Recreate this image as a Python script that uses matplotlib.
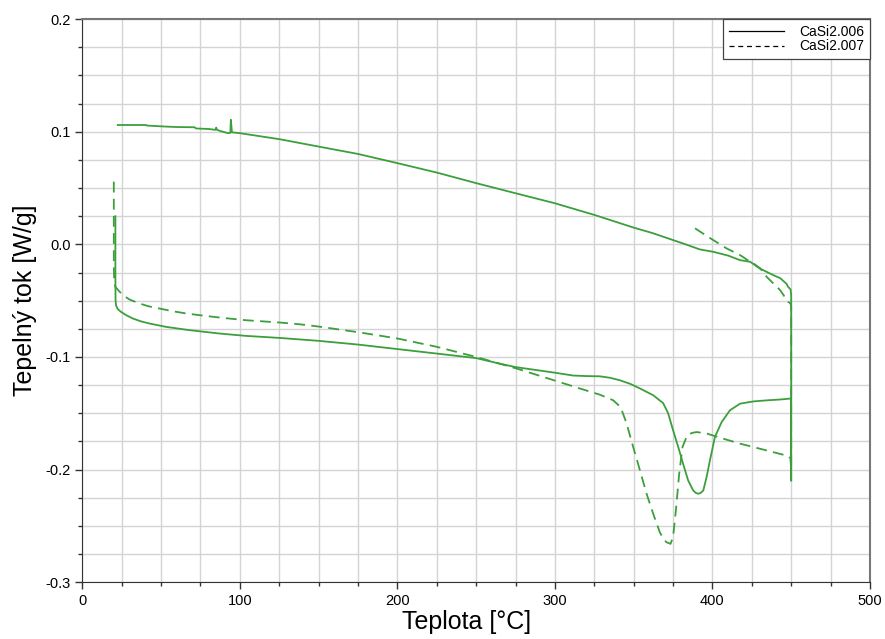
import numpy as np
import matplotlib
matplotlib.use('Agg')
import matplotlib.pyplot as plt
import matplotlib.ticker as ticker
from matplotlib.lines import Line2D

plt.rcParams['font.family'] = ['Liberation Sans', 'DejaVu Sans']
plt.rcParams['axes.unicode_minus'] = False

# CaSi2.006 - heating, hold at 450, cooling (solid)
t006 = [21.0, 21.0, 21.1, 21.5, 22.5, 24.6, 28.0, 32.0, 37.0, 42.6, 53.2, 68.0, 87.1,
        104.0, 125.2, 150.0, 175.0, 200.0, 225.0, 250.0, 265.0, 275.0, 300.0, 311.5,
        320.0, 328.5, 335.0, 341.2, 348.0, 354.0, 362.4, 368.7, 371.9, 375.0, 378.3,
        381.4, 384.6, 387.8, 389.5, 391.0, 392.5, 394.2, 396.3, 398.4, 401.6, 405.8,
        411.1, 417.5, 426.0, 435.0, 443.0, 449.2, 449.8, 450.0, 450.0, 449.6, 448.0,
        447.0, 443.0, 438.6, 430.0, 424.0, 417.5, 410.0, 400.5, 392.0, 384.0, 375.0,
        362.0, 349.7, 325.4, 300.0, 275.0, 250.2, 225.2, 200.4, 175.0, 150.2, 125.2,
        99.8, 95.0, 94.3, 94.0, 92.4, 88.0, 85.5, 85.0, 84.5, 80.0, 72.3, 71.2, 60.0,
        53.0, 41.0, 40.5, 30.0, 22.5]
q006 = [0.025, -0.030, -0.050, -0.0545, -0.0575, -0.0600, -0.0630, -0.0658, -0.0683,
        -0.0703, -0.0733, -0.0762, -0.0792, -0.0813, -0.0831, -0.0857, -0.0890, -0.0930,
        -0.0970, -0.1010, -0.1060, -0.1090, -0.1140, -0.1165, -0.1170, -0.1172, -0.1185,
        -0.1207, -0.1240, -0.1280, -0.1340, -0.1410, -0.1500, -0.1650, -0.1800, -0.1950,
        -0.2097, -0.2186, -0.2208, -0.2215, -0.2208, -0.2186, -0.2067, -0.1920, -0.1710,
        -0.1580, -0.1474, -0.1415, -0.1395, -0.1385, -0.1378, -0.1370, -0.1370, -0.2100,
        -0.0450, -0.0400, -0.0377, -0.0350, -0.0300, -0.0273, -0.0214, -0.0155, -0.0140,
        -0.0100, -0.0066, -0.0045, -0.0005, 0.0038, 0.0100, 0.0150, 0.0260, 0.0365,
        0.0454, 0.0543, 0.0637, 0.0720, 0.0803, 0.0868, 0.0934, 0.0988, 0.0995, 0.1106,
        0.0990, 0.0988, 0.1005, 0.1017, 0.1037, 0.1017, 0.1025, 0.1029, 0.1040, 0.1042,
        0.1046, 0.1055, 0.1060, 0.1060, 0.1060]

# CaSi2.007 - heating, hold at 450, cooling (dashed)
t007 = [20.0, 20.0, 20.3, 21.0, 23.0, 25.7, 30.0, 36.3, 42.0, 49.0, 57.0, 66.0, 75.0,
        87.1, 104.0, 125.2, 138.0, 150.0, 175.0, 200.0, 225.0, 250.0, 275.0, 300.0,
        315.8, 328.5, 337.0, 341.7, 345.5, 349.7, 354.0, 358.2, 362.4, 366.6, 369.0,
        370.9, 373.4, 375.0, 376.8, 378.9, 381.0, 384.0, 387.0, 390.0, 396.3, 406.9,
        417.5, 426.0, 437.0, 448.2, 449.5, 450.0, 450.0, 449.6, 448.0, 443.0, 434.4,
        430.4, 426.0, 424.0, 417.5, 409.0, 398.0, 385.7]
q007 = [0.0557, -0.0200, -0.0340, -0.0377, -0.0410, -0.0451, -0.0490, -0.0525, -0.0550,
        -0.0570, -0.0593, -0.0614, -0.0630, -0.0650, -0.0674, -0.0694, -0.0710, -0.0730,
        -0.0780, -0.0836, -0.0910, -0.1000, -0.1100, -0.1210, -0.1280, -0.1335, -0.1385,
        -0.1445, -0.1590, -0.1800, -0.2008, -0.2215, -0.2393, -0.2557, -0.2620, -0.2646,
        -0.2660, -0.2600, -0.2364, -0.2037, -0.1800, -0.1697, -0.1675, -0.1667, -0.1680,
        -0.1726, -0.1770, -0.1800, -0.1840, -0.1880, -0.1900, -0.2000, -0.0560, -0.0525,
        -0.0510, -0.0407, -0.0288, -0.0214, -0.0169, -0.0155, -0.0095, -0.0036, 0.0060,
        0.0172]

labels = ['CaSi2.006', 'CaSi2.007']
green = '#3c9f3c'

fig = plt.figure(figsize=(8.85, 6.39), dpi=100)
ax = fig.add_axes([0.093, 0.089, 0.890, 0.881])

ax.plot(t006, q006, color=green, lw=1.3, ls='-', solid_joinstyle='round')
ax.plot(t007, q007, color=green, lw=1.3, ls=(0, (6, 3.5)))

ax.set_xlim(0, 500)
ax.set_ylim(-0.3, 0.2)
ax.xaxis.set_major_locator(ticker.MultipleLocator(100))
ax.xaxis.set_minor_locator(ticker.MultipleLocator(25))
ax.yaxis.set_major_locator(ticker.MultipleLocator(0.1))
ax.yaxis.set_minor_locator(ticker.MultipleLocator(0.025))
ax.yaxis.set_major_formatter(ticker.FormatStrFormatter('%.1f'))
ax.grid(which='both', color='#d4d4d4', lw=1.0)
ax.set_axisbelow(True)
ax.tick_params(which='major', direction='out', length=5, width=1, labelsize=10.5, color='#333333')
ax.tick_params(which='minor', direction='out', length=3, width=1, color='#333333')

for s in ['left', 'bottom']:
    ax.spines[s].set_color('#333333')
for s in ['top', 'right']:
    ax.spines[s].set_color('#777777')
    ax.spines[s].set_linewidth(1.5)

ax.set_xlabel('Teplota [°C]', fontsize=18)
ax.xaxis.set_label_coords(0.488, -0.05)
ax.set_ylabel('Tepelný tok [W/g]', fontsize=18, labelpad=6)

handles = [Line2D([], [], color='black', lw=0.9, ls='-'),
           Line2D([], [], color='black', lw=0.9, ls=(0, (4, 3)))]
leg = ax.legend(handles, labels, loc='upper right', fontsize=10, fancybox=False,
                edgecolor='#444444', framealpha=1, borderaxespad=0, handlelength=4,
                handletextpad=1.1, labelspacing=0.05, borderpad=0.4)
leg.get_frame().set_linewidth(0.9)

fig.savefig('out.png', dpi=100)
